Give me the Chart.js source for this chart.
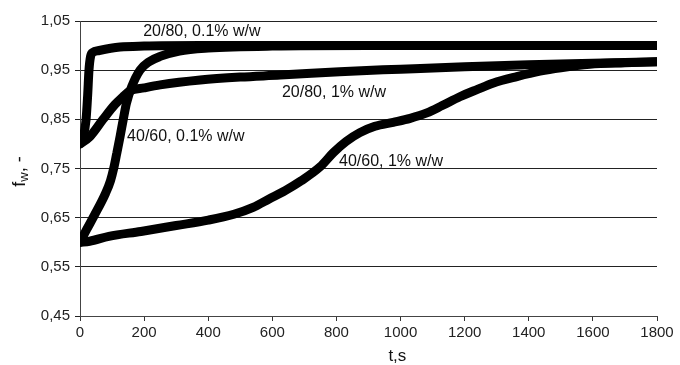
<!DOCTYPE html>
<html>
<head>
<meta charset="utf-8">
<script src="https://cdn.jsdelivr.net/npm/chart.js@4"></script>
<style>
  body { margin: 0; background: #fff; }
</style>
</head>
<body>
<canvas id="myChart" width="680" height="365"></canvas>
<script>
// time in s, fw in -
const t2080low = [0, 10, 19, 24, 28, 33, 40, 60, 125, 200, 375, 500, 800, 1200, 1800];
const fw2080low = [0.80, 0.815, 0.85, 0.90, 0.95, 0.978, 0.986, 0.99, 0.997, 0.999, 1.0, 1.0, 1.0, 1.0, 1.0];

const t2080high = [0, 31, 72, 109, 134, 156, 200, 250, 375, 500, 625, 810, 1000, 1200, 1400, 1600, 1800];
const fw2080high = [0.80, 0.815, 0.85, 0.88, 0.896, 0.908, 0.914, 0.92, 0.93, 0.936, 0.94, 0.947, 0.952, 0.957, 0.961, 0.964, 0.967];

const t4060low = [0, 20, 45, 80, 95, 105, 115, 125, 135, 145, 161, 187, 215, 250, 310, 400, 600, 900, 1200, 1800];
const fw4060low = [0.60, 0.625, 0.655, 0.70, 0.725, 0.75, 0.782, 0.815, 0.85, 0.883, 0.916, 0.95, 0.967, 0.978, 0.989, 0.995, 0.999, 1.0, 1.0, 1.0];

const t4060high = [0, 30, 90, 190, 300, 400, 480, 540, 590, 640, 690, 750, 790, 830, 873, 920, 977, 1030, 1082, 1130, 1185, 1240, 1290, 1363, 1435, 1500, 1590, 1700, 1800];
const fw4060high = [0.60, 0.602, 0.612, 0.622, 0.634, 0.645, 0.657, 0.671, 0.688, 0.705, 0.725, 0.754, 0.782, 0.805, 0.823, 0.836, 0.844, 0.852, 0.863, 0.878, 0.896, 0.911, 0.924, 0.937, 0.948, 0.955, 0.962, 0.965, 0.967];

// curve labels, anchored in data units (left edge, middle)
const labelText = ["20/80, 0.1% w/w", "20/80, 1% w/w", "40/60, 0.1% w/w", "40/60, 1% w/w"];
const labelT = [197, 630, 147, 808];
const labelFw = [1.028, 0.904, 0.815, 0.764];

const xTicks = [0, 200, 400, 600, 800, 1000, 1200, 1400, 1600, 1800];

const myChart = document.getElementById("myChart");
const fontFamily = "'Liberation Sans', Arial, sans-serif";

Chart.defaults.font.family = fontFamily;
Chart.defaults.font.size = 15;
Chart.defaults.color = "#222";

function toPoints(ts, fws) {
  return ts.map((t, i) => ({ x: t, y: fws[i] }));
}

function curve(ts, fws) {
  return {
    data: toPoints(ts, fws),
    borderColor: "#000",
    borderWidth: 9,
    borderCapStyle: "round",
    borderJoinStyle: "round",
    pointRadius: 0,
    cubicInterpolationMode: "monotone",
    fill: false,
  };
}

const textPlugin = {
  id: "textPlugin",
  afterDatasetsDraw(chart) {
    const ctx = chart.ctx;
    const xs = chart.scales.x;
    const ys = chart.scales.y;
    ctx.save();
    ctx.fillStyle = "#111";
    ctx.font = "16px " + fontFamily;
    ctx.textAlign = "left";
    ctx.textBaseline = "middle";
    for (let i = 0; i < labelText.length; i++) {
      ctx.fillText(labelText[i], xs.getPixelForValue(labelT[i]), ys.getPixelForValue(labelFw[i]));
    }

    // x title
    ctx.font = "17px " + fontFamily;
    ctx.textAlign = "center";
    ctx.fillText("t,s", xs.getPixelForValue(990), chart.chartArea.bottom + 40);

    // y title with subscript
    ctx.translate(18, ys.getPixelForValue(0.744));
    ctx.rotate(-Math.PI / 2);
    ctx.textAlign = "left";
    ctx.textBaseline = "alphabetic";
    const big = "18px " + fontFamily;
    const small = "13px " + fontFamily;
    ctx.font = big;
    const wF = ctx.measureText("f").width;
    ctx.font = small;
    const wW = ctx.measureText("w").width;
    ctx.font = big;
    const wRest = ctx.measureText(", -").width;
    let x0 = -(wF + wW + wRest) / 2;
    ctx.fillText("f", x0, 7);
    ctx.font = small;
    ctx.fillText("w", x0 + wF, 10);
    ctx.font = big;
    ctx.fillText(", -", x0 + wF + wW, 7);
    ctx.restore();
  },
};

const config = {
  type: "line",
  data: {
    datasets: [
      curve(t2080low, fw2080low),
      curve(t2080high, fw2080high),
      curve(t4060low, fw4060low),
      curve(t4060high, fw4060high),
    ],
  },
  options: {
    responsive: false,
    animation: false,
    devicePixelRatio: 1,
    layout: { padding: { top: 21, right: 23, bottom: 0, left: 0 } },
    plugins: {
      legend: { display: false },
      tooltip: { enabled: false },
    },
    scales: {
      x: {
        type: "linear",
        min: 0,
        max: 1800,
        afterFit(scale) {
          scale.height = 49;
        },
        afterBuildTicks(scale) {
          scale.ticks = xTicks.map((v) => ({ value: v }));
        },
        grid: {
          drawOnChartArea: false,
          drawTicks: true,
          tickLength: 5,
          color: "#333",
        },
        border: { display: true, color: "#444", width: 1 },
        ticks: {
          padding: 3,
          maxRotation: 0,
          callback: (v) => String(v),
        },
      },
      y: {
        min: 0.45,
        max: 1.05,
        afterFit(scale) {
          scale.width = 80;
        },
        grid: {
          drawOnChartArea: true,
          drawTicks: true,
          tickLength: 5,
          color: "#222",
          lineWidth: 1,
        },
        border: { display: true, color: "#444", width: 1 },
        ticks: {
          stepSize: 0.1,
          padding: 5,
          callback: (v) => v.toFixed(2).replace(".", ","),
        },
      },
    },
  },
  plugins: [textPlugin],
};

new Chart(myChart, config);
</script>
</body>
</html>
